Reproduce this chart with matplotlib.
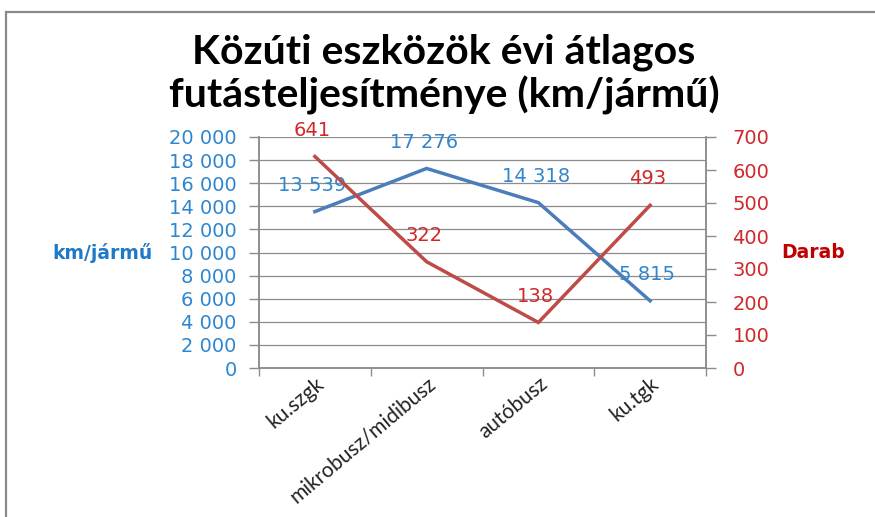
import matplotlib
matplotlib.use("Agg")
import matplotlib.pyplot as plt
from matplotlib.patches import Rectangle
from matplotlib.ticker import FuncFormatter, MultipleLocator
import numpy as np

# Adatok
kategoriak = ['ku.szgk', 'mikrobusz/midibusz', 'autóbusz', 'ku.tgk']
futas_km = [13539, 17276, 14318, 5815]
darab = [641, 322, 138, 493]

kek = '#4A7EBB'
piros = '#BE4B48'
kek_szoveg = '#2E86D0'
piros_szoveg = '#D0282A'
szurke = '#8C8C8C'

fig = plt.figure(figsize=(8.75, 5.17), dpi=100)
fig.patch.set_facecolor('white')

# keret a diagram körül
fig.patches.append(Rectangle((6 / 875, -0.05), 1.2, 1 - 12 / 517 + 0.05,
                             transform=fig.transFigure, fill=False,
                             edgecolor='#8A8A8A', linewidth=1.6))

ax = fig.add_axes([259 / 875, 149 / 517, 447 / 875, 231 / 517])
ax2 = ax.twinx()

x = np.arange(len(kategoriak))
ax.plot(x, futas_km, color=kek, linewidth=2.5, solid_joinstyle='miter', zorder=3)
ax2.plot(x, darab, color=piros, linewidth=2.5, solid_joinstyle='miter', zorder=3)

ezres = FuncFormatter(lambda v, p: f"{int(v):,}".replace(',', ' '))

ax.set_xlim(-0.5, 3.5)
ax.set_ylim(0, 20000)
ax2.set_ylim(0, 700)
ax.yaxis.set_major_locator(MultipleLocator(2000))
ax.yaxis.set_major_formatter(ezres)
ax2.yaxis.set_major_locator(MultipleLocator(100))

ax.grid(axis='y', color=szurke, linewidth=0.9)
ax.set_axisbelow(True)

for a in (ax, ax2):
    a.spines['top'].set_visible(False)
    for s in ('left', 'right', 'bottom'):
        a.spines[s].set_color(szurke)
        a.spines[s].set_linewidth(1.1)

ax.tick_params(axis='y', colors=szurke, labelcolor=kek_szoveg, labelsize=14,
               length=7, width=1, pad=9)
ax2.tick_params(axis='y', colors=szurke, labelcolor=piros_szoveg, labelsize=14,
                length=7, width=1, pad=12)

ax.set_xticks(x)
ax.set_xticks(np.arange(-0.5, 4, 1), minor=True)
ax.tick_params(axis='x', which='major', length=0, pad=4)
ax.tick_params(axis='x', which='minor', length=6, color=szurke, width=1)
ax.set_xticklabels(kategoriak, rotation=40, ha='right', rotation_mode='anchor',
                   fontsize=15, family='Lato', color='#222222')

# adatcímkék
for xi, v in zip(x, futas_km):
    ax.annotate(f"{v:,}".replace(',', ' '), (xi, v), xytext=(-2, 19),
                textcoords='offset points', ha='center', va='center',
                fontsize=14, color=kek_szoveg, zorder=5)
for xi, v in zip(x, darab):
    ax2.annotate(str(v), (xi, v), xytext=(-2, 19),
                 textcoords='offset points', ha='center', va='center',
                 fontsize=14, color=piros_szoveg, zorder=5)

# tengelycímek
fig.text(103 / 875, 1 - 253 / 517, 'km/jármű', ha='center', va='center',
         fontsize=13.5, fontweight='bold', color='#1F78C8')
fig.text(813 / 875, 1 - 253 / 517, 'Darab', ha='center', va='center',
         fontsize=13.5, fontweight='bold', color='#C00000')

fig.text(444 / 875, 1 - 74 / 517,
         'Közúti eszközök évi átlagos\nfutásteljesítménye (km/jármű)',
         ha='center', va='center', fontsize=29.5, fontweight='bold',
         family='Lato', color='black', linespacing=1.15)

fig.savefig('out.png', dpi=100)
